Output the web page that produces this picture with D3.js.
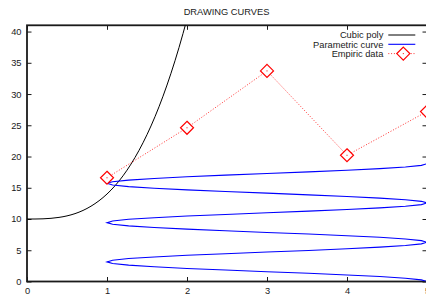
<!DOCTYPE html>
<html>
<head>
<meta charset="utf-8">
<script src="https://cdn.jsdelivr.net/npm/d3@7"></script>
<style>
  html, body { margin: 0; padding: 0; background: #fff; }
  svg { display: block; font-family: "Liberation Sans", Arial, sans-serif; }
</style>
</head>
<body>
<div id="chart"></div>
<script>
const xTicks = [0, 1, 2, 3, 4, 5];
const yTicks = [0, 5, 10, 15, 20, 25, 30, 35, 40];

// cubic poly
const cubicX = [0, 0.1, 0.2, 0.3, 0.4, 0.5, 0.6, 0.7, 0.8, 0.9, 1.0,
  1.1, 1.2, 1.3, 1.4, 1.5, 1.6, 1.7, 1.8, 1.9, 2.0];
const cubicY = [10, 10.0, 10.03, 10.11, 10.26, 10.5, 10.86, 11.37, 12.05, 12.92, 14.0,
  15.32, 16.91, 18.79, 20.98, 23.5, 26.38, 29.65, 33.33, 37.44, 42.0];

// parametric curve
const paramX = [
  5.00, 4.93, 4.73, 4.41, 4.00, 3.52, 3.00, 2.48, 2.00, 1.59, 1.27, 1.07,
  1.00, 1.07, 1.27, 1.59, 2.00, 2.48, 3.00, 3.52, 4.00, 4.41, 4.73, 4.93,
  5.00, 4.93, 4.73, 4.41, 4.00, 3.52, 3.00, 2.48, 2.00, 1.59, 1.27, 1.07,
  1.00, 1.07, 1.27, 1.59, 2.00, 2.48, 3.00, 3.52, 4.00, 4.41, 4.73, 4.93,
  5.00, 4.93, 4.73, 4.41, 4.00, 3.52, 3.00, 2.48, 2.00, 1.59, 1.27, 1.07,
  1.00, 1.07, 1.27, 1.59, 2.00, 2.48, 3.00, 3.52, 4.00, 4.41, 4.73, 4.93,
  5.00];
const paramY = [
  0.00, 0.26, 0.52, 0.79, 1.05, 1.31, 1.57, 1.83, 2.09, 2.36, 2.62, 2.88,
  3.14, 3.40, 3.67, 3.93, 4.19, 4.45, 4.71, 4.97, 5.24, 5.50, 5.76, 6.02,
  6.28, 6.54, 6.81, 7.07, 7.33, 7.59, 7.85, 8.12, 8.38, 8.64, 8.90, 9.16,
  9.42, 9.69, 9.95, 10.21, 10.47, 10.73, 11.00, 11.26, 11.52, 11.78, 12.04, 12.30,
  12.57, 12.83, 13.09, 13.35, 13.61, 13.87, 14.14, 14.40, 14.66, 14.92, 15.18, 15.45,
  15.71, 15.97, 16.23, 16.49, 16.76, 17.02, 17.28, 17.54, 17.80, 18.06, 18.33, 18.59,
  18.85];

// empiric data
const empX = [1, 2, 3, 4, 5];
const empY = [16.6, 24.6, 33.7, 20.2, 27.2];

const legendItems = [
  { label: "Cubic poly", color: "#000000", dash: null, point: false },
  { label: "Parametric curve", color: "#0000ff", dash: null, point: false },
  { label: "Empiric data", color: "#ff3333", dash: "1,1.8", point: true },
];

const W = 426, H = 305;
const mLeft = 27, mRight = 427, mTop = 25.3, mBottom = 281.5;
const FONT = "9.3px";
const INK = "#1a1a1a";

const svg = d3.select("#chart").append("svg")
  .attr("width", W)
  .attr("height", H);

const x = d3.scaleLinear().domain([0, 5]).range([mLeft, mRight]);
const y = d3.scaleLinear().domain([0, 41]).range([mBottom, mTop]);

svg.append("defs").append("clipPath").attr("id", "plot")
  .append("rect")
  .attr("x", mLeft).attr("y", mTop)
  .attr("width", mRight - mLeft).attr("height", mBottom - mTop);

// title
svg.append("text")
  .attr("x", (mLeft + mRight) / 2 - 0.5)
  .attr("y", 15)
  .attr("text-anchor", "middle")
  .attr("font-size", FONT)
  .attr("fill", INK)
  .text("DRAWING CURVES");

// axes (ticks point inwards, gnuplot style)
function styleAxis(g) {
  g.select(".domain").remove();
  g.selectAll("line").attr("stroke", INK).attr("stroke-width", 1);
  g.selectAll("text").attr("font-size", FONT).attr("fill", INK)
    .attr("font-family", "Liberation Sans, Arial, sans-serif");
}

svg.append("g")
  .attr("transform", `translate(0,${mBottom})`)
  .call(d3.axisBottom(x).tickValues(xTicks).tickFormat(d3.format("d"))
    .tickSizeInner(-4.5).tickSizeOuter(0).tickPadding(5.5))
  .call(styleAxis);

svg.append("g")
  .attr("transform", `translate(0,${mTop})`)
  .call(d3.axisTop(x).tickValues(xTicks).tickSizeInner(-4.5).tickSizeOuter(0).tickFormat(""))
  .call(styleAxis);

svg.append("g")
  .attr("transform", `translate(${mLeft},0)`)
  .call(d3.axisLeft(y).tickValues(yTicks).tickFormat(d3.format("d"))
    .tickSizeInner(-4.5).tickSizeOuter(0).tickPadding(5.5))
  .call(styleAxis);

svg.append("g")
  .attr("transform", `translate(${mRight},0)`)
  .call(d3.axisRight(y).tickValues(yTicks).tickSizeInner(-4.5).tickSizeOuter(0).tickFormat(""))
  .call(styleAxis);

// border
svg.append("rect")
  .attr("x", mLeft).attr("y", mTop)
  .attr("width", mRight - mLeft).attr("height", mBottom - mTop)
  .attr("fill", "none")
  .attr("stroke", INK)
  .attr("stroke-width", 1.8);

const plot = svg.append("g").attr("clip-path", "url(#plot)");

const line = d3.line().x((d) => x(d[0])).y((d) => y(d[1]));

// cubic poly
plot.append("path")
  .datum(cubicX.map((v, i) => [v, cubicY[i]]))
  .attr("fill", "none")
  .attr("stroke", "#000")
  .attr("stroke-width", 1)
  .attr("d", line.curve(d3.curveMonotoneX));

// parametric curve
plot.append("path")
  .datum(paramX.map((v, i) => [v, paramY[i]]))
  .attr("fill", "none")
  .attr("stroke", "#0000ff")
  .attr("stroke-width", 1.1)
  .attr("d", line.curve(d3.curveLinear));

// empiric data
const emp = empX.map((v, i) => [v, empY[i]]);
svg.append("path")
  .datum(emp)
  .attr("fill", "none")
  .attr("stroke", "#ff3333")
  .attr("stroke-width", 1)
  .attr("stroke-dasharray", "1,1.8")
  .attr("d", line.curve(d3.curveLinear));

function diamond(g, cx, cy) {
  const r = 6.5;
  g.append("path")
    .attr("d", `M${cx},${cy - r}L${cx + r},${cy}L${cx},${cy + r}L${cx - r},${cy}Z`)
    .attr("fill", "#fff")
    .attr("stroke", "#ff0000")
    .attr("stroke-width", 1.2);
  g.append("rect")
    .attr("x", cx - 0.5).attr("y", cy - 0.5)
    .attr("width", 1).attr("height", 1)
    .attr("fill", "#ff0000");
}

const pts = svg.append("g");
emp.forEach((d) => diamond(pts, x(d[0]), y(d[1])));

// legend
const legend = svg.append("g").attr("transform", "translate(383.3, 35)");
legendItems.forEach((d, i) => {
  const g = legend.append("g").attr("transform", `translate(0, ${i * 9.3})`);
  g.append("text")
    .attr("x", 0)
    .attr("y", 3.3)
    .attr("text-anchor", "end")
    .attr("font-size", FONT)
    .attr("fill", INK)
    .text(d.label);
  g.append("line")
    .attr("x1", 5).attr("x2", 32)
    .attr("y1", 0).attr("y2", 0)
    .attr("stroke", d.color)
    .attr("stroke-width", d.color === "#0000ff" ? 1.1 : 1)
    .attr("stroke-dasharray", d.dash);
  if (d.point) diamond(g, 20, 0);
});
</script>
</body>
</html>
